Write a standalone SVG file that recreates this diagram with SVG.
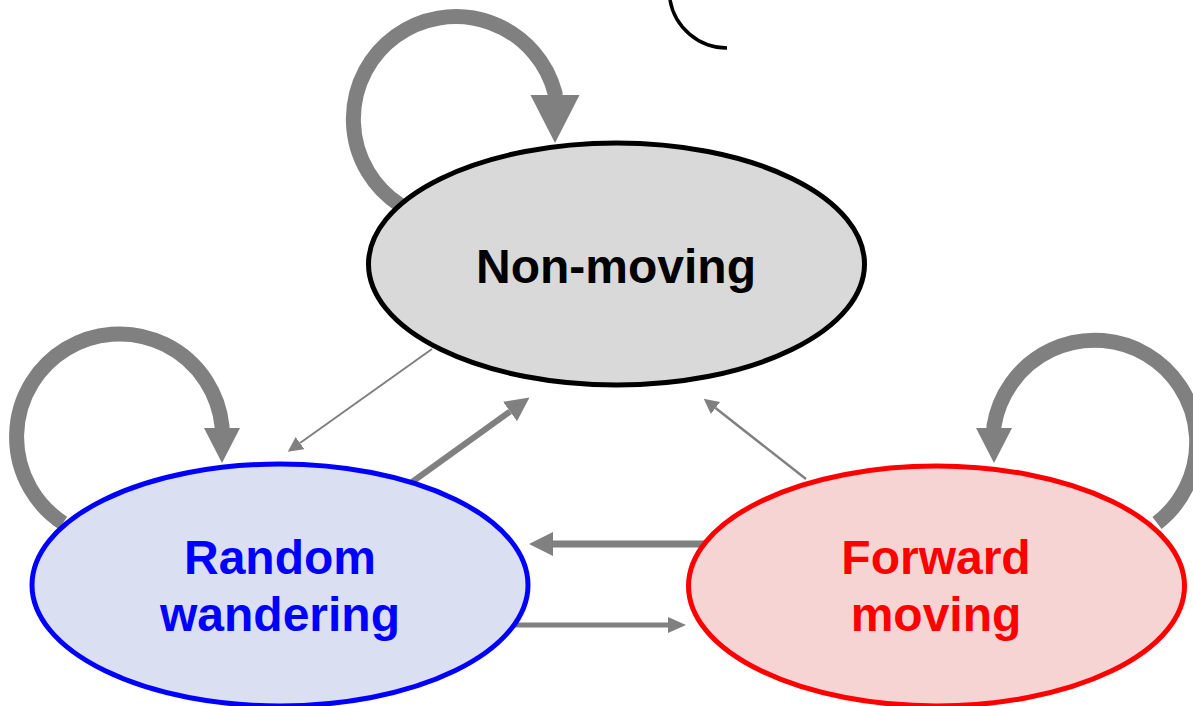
<svg xmlns="http://www.w3.org/2000/svg" width="1193" height="706" viewBox="0 0 1193 706">
<style>
.loop{fill:none;stroke:#808080;stroke-width:15}
.ln{fill:none;stroke:#808080}
.node{stroke-width:5}
.lbl{font-family:"Liberation Sans",Arial,sans-serif;font-weight:bold;font-size:48px;text-anchor:middle}
</style>
<defs>
<marker id="bigL" markerUnits="userSpaceOnUse" markerWidth="60" markerHeight="60" refX="0" refY="24.5" orient="auto" viewBox="0 0 60 60"><path d="M0,0 L48,24.5 L0,49 z" fill="#808080"/></marker>
<marker id="medL" markerUnits="userSpaceOnUse" markerWidth="40" markerHeight="40" refX="0" refY="18" orient="auto" viewBox="0 0 40 40"><path d="M0,0 L35,18 L0,36 z" fill="#808080"/></marker>
<marker id="a24" markerUnits="userSpaceOnUse" markerWidth="30" markerHeight="30" refX="0" refY="12" orient="auto" viewBox="0 0 30 30"><path d="M0,0 L24,12 L0,24 z" fill="#808080"/></marker>
<marker id="a18" markerUnits="userSpaceOnUse" markerWidth="24" markerHeight="24" refX="0" refY="8" orient="auto" viewBox="0 0 24 24"><path d="M0,0 L18,8 L0,16 z" fill="#808080"/></marker>
<marker id="a15" markerUnits="userSpaceOnUse" markerWidth="20" markerHeight="20" refX="0" refY="7.5" orient="auto" viewBox="0 0 20 20"><path d="M0,0 L15,7.5 L0,15 z" fill="#808080"/></marker>
</defs>
<path d="M670,0 A58,58 0 0 0 727,48" fill="none" stroke="#000" stroke-width="3.5"/>
<g id="connectors">
<path class="loop" d="M400,205 A102.5,102.5 0 1 1 555,93 L555,95" marker-end="url(#bigL)"/>
<path class="loop" stroke-width="12" d="M63,523 A103,103 0 1 1 222,426 L222,428" marker-end="url(#medL)"/>
<path class="loop" stroke-width="12" d="M1157,523 A102,102 0 1 0 994,426 L994,428" marker-end="url(#medL)"/>
<path class="ln" stroke-width="2" d="M432,349 L300,443" marker-end="url(#a15)"/>
<path class="ln" stroke-width="6" d="M412,482 L510,411.5" marker-end="url(#a24)"/>
<path class="ln" stroke-width="7" d="M705,544 L553,544" marker-end="url(#a24)"/>
<path class="ln" stroke-width="5" d="M515,625 L668,625" marker-end="url(#a18)"/>
<path class="ln" stroke-width="2.5" d="M806,479 L715.5,408" marker-end="url(#a15)"/>
</g>
<g id="non-moving">
<ellipse class="node" cx="616.5" cy="264" rx="248" ry="121" fill="#d9d9d9" stroke="#000"/>
<text class="lbl" x="616" y="283" fill="#000">Non-moving</text>
</g>
<g id="random-wandering">
<ellipse class="node" cx="280" cy="585" rx="248" ry="121" fill="#dae0f1" stroke="#0000ff"/>
<text class="lbl" x="280" y="574" fill="#0000ff">Random</text>
<text class="lbl" x="280" y="631" fill="#0000ff">wandering</text>
</g>
<g id="forward-moving">
<ellipse class="node" cx="936.5" cy="586" rx="248" ry="120" fill="#f7d4d4" stroke="#ff0000"/>
<text class="lbl" x="936" y="574" fill="#ff0000">Forward</text>
<text class="lbl" x="936" y="631" fill="#ff0000">moving</text>
</g>
</svg>
